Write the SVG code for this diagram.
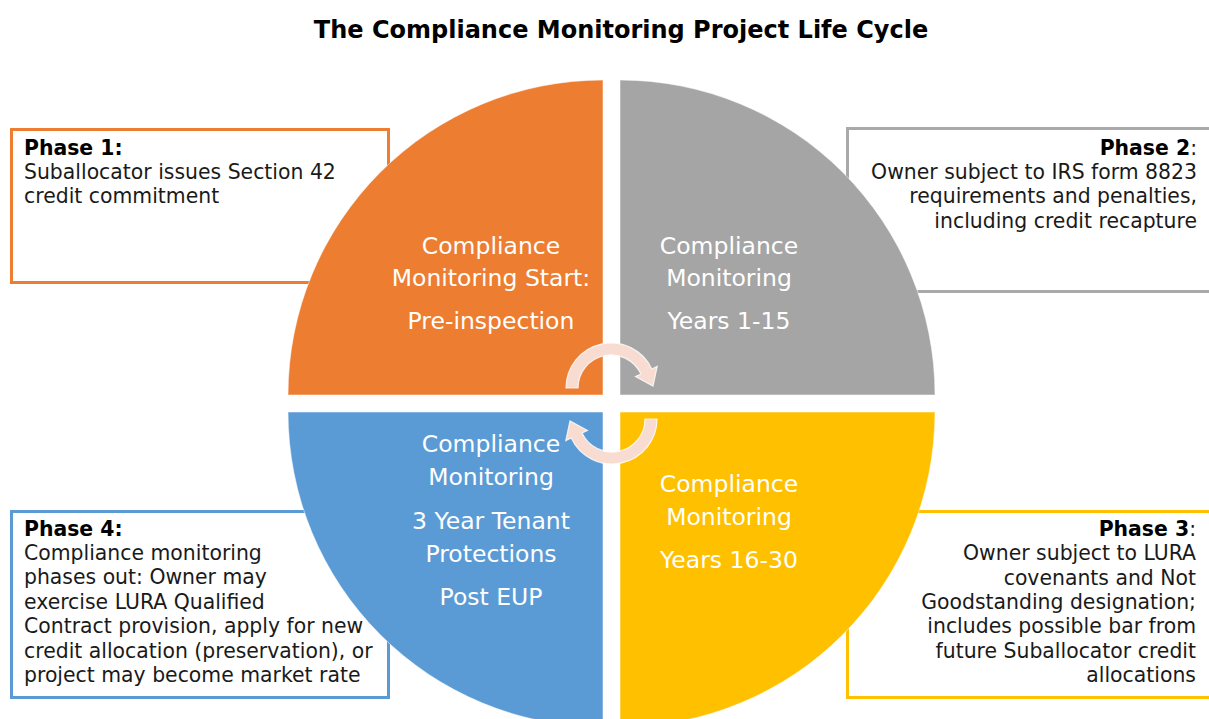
<svg xmlns="http://www.w3.org/2000/svg" width="1209" height="719" viewBox="0 0 1209 719">
<defs>
<style>
.title{font-family:"DejaVu Sans","Liberation Sans",sans-serif;font-weight:bold;font-size:24px;fill:#000;text-anchor:middle}
.box{fill:#fff;stroke-width:3}
.bt{font-family:"DejaVu Sans","Liberation Sans",sans-serif;font-size:20.4px;fill:#1a1a1a}
.bt .b{font-weight:bold;fill:#000}
.r{text-anchor:end}
.q{stroke:#fff;stroke-opacity:0.5;stroke-width:1}
.qt{font-family:"DejaVu Sans","Liberation Sans",sans-serif;font-size:23.5px;fill:#fff;text-anchor:middle}
.arrow{fill:#F8DCD2;stroke:#fff;stroke-width:1.2;stroke-opacity:0.8}
</style>
<path id="arc" d="M 566 388 A 45 45 0 0 1 651.8 369 L 657.2 366.4 L 653 386 L 635.5 376.6 L 640.9 374 A 33 33 0 0 0 578 388 Z"/>
</defs>
<rect width="1209" height="719" fill="#fff"/>
<text class="title" x="621" y="38">The Compliance Monitoring Project Life Cycle</text>

<g id="phase1">
<rect class="box" x="11.5" y="129.5" width="377" height="153" stroke="#ED7D31"/>
<text class="bt" x="24" y="155"><tspan class="b">Phase 1:</tspan><tspan x="24" dy="24.2">Suballocator issues Section 42</tspan><tspan x="24" dy="24.2">credit commitment</tspan></text>
</g>
<g id="phase2">
<rect class="box" x="847.5" y="128.5" width="370" height="163" stroke="#A9A9A9"/>
<text class="bt r" x="1197" y="155"><tspan class="b">Phase 2</tspan><tspan>:</tspan><tspan x="1197" dy="24.2">Owner subject to IRS form 8823</tspan><tspan x="1197" dy="24.2">requirements and penalties,</tspan><tspan x="1197" dy="24.2">including credit recapture</tspan></text>
</g>
<g id="phase4">
<rect class="box" x="11.5" y="511.5" width="377" height="186" stroke="#5B9BD5"/>
<text class="bt" x="24" y="535.5"><tspan class="b">Phase 4:</tspan><tspan x="24" dy="24.4">Compliance monitoring</tspan><tspan x="24" dy="24.4">phases out: Owner may</tspan><tspan x="24" dy="24.4">exercise LURA Qualified</tspan><tspan x="24" dy="24.4">Contract provision, apply for new</tspan><tspan x="24" dy="24.4">credit allocation (preservation), or</tspan><tspan x="24" dy="24.4">project may become market rate</tspan></text>
</g>
<g id="phase3">
<rect class="box" x="847.5" y="511.5" width="370" height="186" stroke="#FFC000"/>
<text class="bt r" x="1196" y="536"><tspan class="b">Phase 3</tspan><tspan>:</tspan><tspan x="1196" dy="24.3">Owner subject to LURA</tspan><tspan x="1196" dy="24.3">covenants and Not</tspan><tspan x="1196" dy="24.3">Goodstanding designation;</tspan><tspan x="1196" dy="24.3">includes possible bar from</tspan><tspan x="1196" dy="24.3">future Suballocator credit</tspan><tspan x="1196" dy="24.3">allocations</tspan></text>
</g>

<g id="q-orange">
<path class="q" d="M 603 395 L 288 395 A 315 315 0 0 1 603 80 Z" fill="#ED7D31"/>
<text class="qt" x="491" y="253.5">Compliance</text>
<text class="qt" x="491" y="286">Monitoring Start:</text>
<text class="qt" x="491" y="328.5">Pre-inspection</text>
</g>
<g id="q-gray">
<path class="q" d="M 620 395 L 620 80 A 315 315 0 0 1 935 395 Z" fill="#A5A5A5"/>
<text class="qt" x="729" y="253.5">Compliance</text>
<text class="qt" x="729" y="286">Monitoring</text>
<text class="qt" x="729" y="328.5">Years 1-15</text>
</g>
<g id="q-blue">
<path class="q" d="M 603 412 L 603 727 A 315 315 0 0 1 288 412 Z" fill="#5B9BD5"/>
<text class="qt" x="491" y="452">Compliance</text>
<text class="qt" x="491" y="485">Monitoring</text>
<text class="qt" x="491" y="528.5">3 Year Tenant</text>
<text class="qt" x="491" y="561.5">Protections</text>
<text class="qt" x="491" y="605">Post EUP</text>
</g>
<g id="q-yellow">
<path class="q" d="M 620 412 L 935 412 A 315 315 0 0 1 620 727 Z" fill="#FFC000"/>
<text class="qt" x="729" y="492">Compliance</text>
<text class="qt" x="729" y="524.5">Monitoring</text>
<text class="qt" x="729" y="568">Years 16-30</text>
</g>

<g id="connectors">
<use href="#arc" class="arrow"/>
<use href="#arc" class="arrow" transform="rotate(180 611.5 403.5)"/>
</g>
</svg>
